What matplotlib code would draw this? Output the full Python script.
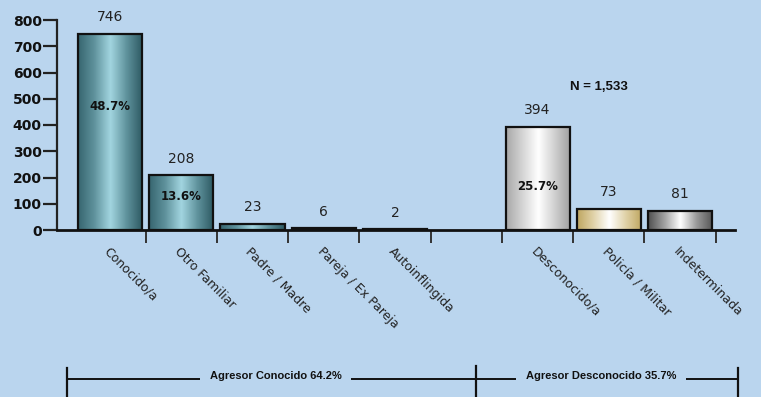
import matplotlib
matplotlib.use("Agg")
import matplotlib.pyplot as plt
import numpy as np
from matplotlib.colors import LinearSegmentedColormap

# ---------------- data ----------------
categories = ["Conocido/a", "Otro Familiar", "Padre / Madre", "Pareja / Ex Pareja",
              "Autoinflingida", "Desconocido/a", "Policía / Militar", "Indeterminada"]
values = [746, 208, 23, 6, 2, 394, 80, 72]
value_labels = ["746", "208", "23", "6", "2", "394", "73", "81"]
pct_labels = ["48.7%", "13.6%", "", "", "", "25.7%", "", ""]
group_labels = ["Agresor Conocido 64.2%", "Agresor Desconocido 35.7%"]
n_label = "N = 1,533"
y_ticks = [0, 100, 200, 300, 400, 500, 600, 700, 800]

# ---------------- layout / style ----------------
positions = [0, 1, 2, 3, 4, 6, 7, 8]          # slot 5 left blank between groups
pct_frac = [0.63, 0.62, 0, 0, 0, 0.42, 0, 0]   # vertical placement of % label in bar
bg = "#bad5ee"
teal = ["#36656f", "#5f929c", "#a2d5e0", "#5f929c", "#2c5861"]
light = ["#a8a8a8", "#d4d4d4", "#ffffff", "#d0d0d0", "#a0a0a0"]
tan = ["#bfa660", "#e0d2a8", "#ffffff", "#e0d2a8", "#bfa660"]
dark = ["#505050", "#a0a0a0", "#ffffff", "#9a9a9a", "#555555"]
grads = [teal] * 5 + [light, tan, dark]

W, H = 761, 397
fig = plt.figure(figsize=(W / 100, H / 100), dpi=100, facecolor=bg)
ax = fig.add_axes([57 / W, 1 - 230 / H, (735 - 57) / W, 210 / H])
ax.set_facecolor(bg)

xlim = (-0.743, 8.77)
ylim = (0, 800)

edge_bars = ax.bar(positions, values, width=0.9, facecolor="none",
                   edgecolor="#111111", linewidth=1.6, zorder=4)
for rect, cols in zip(edge_bars, grads):
    x0, y0 = rect.get_x(), rect.get_y()
    w, h = rect.get_width(), rect.get_height()
    cmap = LinearSegmentedColormap.from_list("g", cols)
    grad = np.linspace(0, 1, 256).reshape(1, -1)
    ax.imshow(grad, cmap=cmap, extent=(x0, x0 + w, y0, y0 + h),
              aspect="auto", zorder=3, interpolation="bicubic")

ax.set_xlim(*xlim)
ax.set_ylim(*ylim)

for p, v, lab in zip(positions, values, value_labels):
    ax.annotate(lab, (p, v), xytext=(0, 7), textcoords="offset points",
                ha="center", va="bottom", fontsize=10, color="#222222",
                family="DejaVu Sans")
for p, v, lab, f in zip(positions, values, pct_labels, pct_frac):
    if lab:
        ax.text(p, v * f, lab, ha="center", va="center", fontsize=8.5,
                fontweight="bold", color="#111111", zorder=6,
                family="DejaVu Sans")

# spines
for s in ["top", "right"]:
    ax.spines[s].set_visible(False)
ax.spines["left"].set_linewidth(1.6)
ax.spines["left"].set_color("#222222")
ax.spines["bottom"].set_linewidth(2)
ax.spines["bottom"].set_color("#111111")

ax.set_yticks(y_ticks)
ax.set_yticklabels([str(t) for t in y_ticks], fontsize=10, fontweight="bold",
                   color="#111111", family="DejaVu Sans")
ax.tick_params(axis="y", direction="out", length=10, width=1.6,
               color="#222222", pad=1)

boundaries = [p + 0.5 for p in range(0, 9)]
ax.set_xticks(boundaries)
ax.set_xticklabels([""] * len(boundaries))
ax.tick_params(axis="x", which="major", direction="out", length=9, width=1.4,
               color="#333333")
ax.set_xticks(positions, minor=True)
ax.set_xticklabels(categories, minor=True, rotation=-45, ha="left", va="top",
                   rotation_mode="anchor", fontsize=9, color="#222222",
                   family="DejaVu Sans")
ax.tick_params(axis="x", which="minor", length=0, pad=11)

ax.text(0.80, 0.681, n_label, transform=ax.transAxes, ha="center",
        va="center", fontsize=9.5, fontweight="bold", color="#111111",
        family="Liberation Sans")

# ---------------- bottom bracket ----------------
ov = fig.add_axes([0, 0, 1, 1], facecolor="none")
ov.set_xlim(0, W)
ov.set_ylim(H, 0)
ov.axis("off")
ov.plot([67, 738], [379, 379], color="#111111", lw=1.4)
for xv, yt in [(67, 368), (476, 366), (738, 368)]:
    ov.plot([xv, xv], [yt, H], color="#111111", lw=1.6)
for xc, lab in zip([275.5, 601], group_labels):
    ov.text(xc, 379, lab, ha="center", va="baseline", fontsize=8,
            fontweight="bold", color="#111111", family="Liberation Sans",
            bbox=dict(facecolor=bg, edgecolor="none", pad=7))

fig.savefig("out.png", dpi=100, facecolor=bg)
